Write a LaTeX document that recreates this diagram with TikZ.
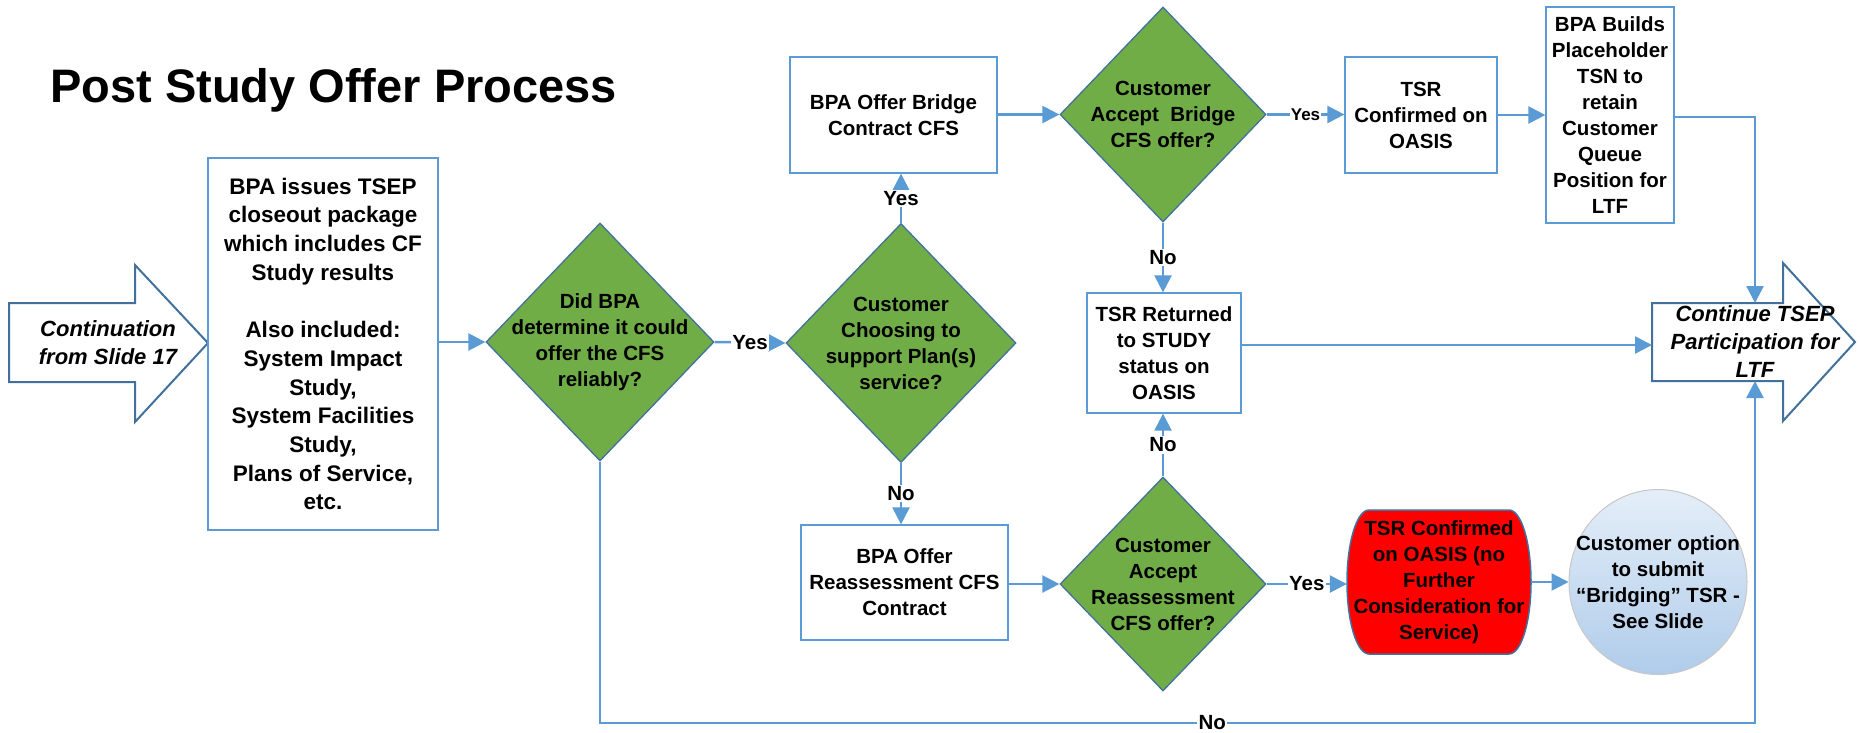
\documentclass[tikz,border=0pt]{standalone}
\usepackage{fontspec}
\setmainfont{Liberation Sans}
\usetikzlibrary{arrows.meta,shapes.geometric}
\definecolor{ln}{HTML}{5B9BD5}
\definecolor{dk}{HTML}{41719C}
\definecolor{gr}{HTML}{70AD47}
\definecolor{redfill}{HTML}{FF0000}
\definecolor{bubtop}{HTML}{E4EEF8}
\definecolor{bubbot}{HTML}{B0CCEA}
\begin{document}
\begin{tikzpicture}[x=1pt,y=-1pt,
  box/.style={draw=ln, line width=1.3pt, fill=white, inner sep=0pt},
  txt/.style={font=\fontsize{20.5}{26}\selectfont\bfseries, align=center, inner sep=0pt},
  bigtxt/.style={font=\fontsize{22.5}{28.7}\selectfont\bfseries, align=center, inner sep=0pt},
  ittxt/.style={font=\fontsize{22}{28}\selectfont\bfseries\itshape, align=center, inner sep=0pt},
  dia/.style={diamond, draw=dk, line width=1.3pt, fill=gr, inner sep=0pt},
  conn/.style={draw=ln, line width=2.5pt, -{Triangle[length=17pt,width=17pt]}},
  lab/.style={font=\fontsize{20.5}{24}\selectfont\bfseries, fill=white, inner sep=1.5pt},
  smlab/.style={font=\fontsize{17}{20}\selectfont\bfseries, fill=white, inner sep=1pt},
  blockarrow/.style={draw=dk, line width=2pt, fill=white, line join=miter},
]
\fill[white] (0,0) rectangle (1860,732);
\useasboundingbox (0,0) rectangle (1860,732);

% title
\node[anchor=base west, font=\fontsize{47}{50}\selectfont\bfseries, inner sep=0pt] (title) at (50,102) {Post Study Offer Process};

% left block arrow
\draw[blockarrow] (9,303) -- (135,303) -- (135,265) -- (208,343) -- (135,422) -- (135,382) -- (9,382) -- cycle;
\node[ittxt] (cont) at (108,343) {Continuation\\from Slide 17};

% right block arrow
\draw[blockarrow] (1652,303) -- (1783,303) -- (1783,263) -- (1855,342) -- (1783,421) -- (1783,381) -- (1652,381) -- cycle;
\node[ittxt] (ctsep) at (1755,342) {Continue TSEP\\Participation for\\LTF};
\coordinate (ctop) at (1755,303);
\coordinate (cleft) at (1652,345);
\coordinate (cbot) at (1755,381);

% boxes
\node[box, bigtxt, minimum width=230pt, minimum height=372pt] (tsep) at (323,344)
  {BPA issues TSEP\\closeout package\\which includes CF\\Study results\\[28.7pt]Also included:\\System Impact\\Study,\\System Facilities\\Study,\\Plans of Service,\\etc.};
\node[box, txt, minimum width=207pt, minimum height=116pt] (bridge) at (893.5,115) {BPA Offer Bridge\\Contract CFS};
\node[box, txt, minimum width=207pt, minimum height=115pt] (reass) at (904.5,582.5) {BPA Offer\\Reassessment CFS\\Contract};
\node[box, txt, minimum width=154pt, minimum height=120pt] (tsrret) at (1164,353) {TSR Returned\\to STUDY\\status on\\OASIS};
\node[box, txt, minimum width=152pt, minimum height=116pt] (tsrconf) at (1421,115) {TSR\\Confirmed on\\OASIS};
\node[box, txt, minimum width=128pt, minimum height=216pt] (builds) at (1610,115) {BPA Builds\\Placeholder\\TSN to\\retain\\Customer\\Queue\\Position for\\LTF};

% diamonds
\node[dia, minimum width=228pt, minimum height=238pt] (d1) at (600,342) {};
\node[txt] at (d1) {Did BPA\\determine it could\\offer the CFS\\reliably?};
\node[dia, minimum width=230pt, minimum height=239pt] (d2) at (901,343) {};
\node[txt] at (d2) {Customer\\Choosing to\\support Plan(s)\\service?};
\node[dia, minimum width=206pt, minimum height=215pt] (d3) at (1163,114.5) {};
\node[txt] at (d3) {Customer\\Accept~ Bridge\\CFS offer?};
\node[dia, minimum width=206pt, minimum height=214pt] (d4) at (1163,584) {};
\node[txt] at (d4) {Customer\\Accept\\Reassessment\\CFS offer?};

% red terminal
\draw[draw=dk, line width=1.5pt, fill=redfill] (1369,510) -- (1509,510)
  arc[start angle=90, end angle=-90, x radius=22pt, y radius=72pt] -- (1369,654)
  arc[start angle=-90, end angle=-270, x radius=22pt, y radius=72pt] -- cycle;
\node[txt, minimum width=184pt, minimum height=144pt] (red) at (1439,582) {TSR Confirmed\\on OASIS (no\\Further\\Consideration for\\Service)};

% bubble
\node[ellipse, draw=black!22, line width=1pt, top color=bubtop, bottom color=bubbot, minimum width=178pt, minimum height=185pt, inner sep=0pt] (bub) at (1658,582) {};
\node[txt] at (bub) {Customer option\\to submit\\“Bridging” TSR -\\See Slide};

% connectors
\draw[conn] (tsep.east |- d1) -- (d1.west);
\draw[conn] (d1.east) -- node[lab]{Yes} (d2.west);
\draw[conn] (d2.north) -- node[lab]{Yes} (d2.north |- bridge.south);
\draw[conn] (bridge.east |- d3) -- (d3.west);
\draw[conn] (d3.east) -- node[smlab]{Yes} (tsrconf.west |- d3);
\draw[conn] (tsrconf.east) -- (builds.west |- tsrconf.east);
\coordinate (bre) at (1674,117);
\draw[conn] (bre) -| (ctop);
\draw[conn] (d3.south) -- node[lab]{No} (d3.south |- tsrret.north);
\draw[conn] (tsrret.east |- cleft) -- (cleft);
\draw[conn] (d2.south) -- node[lab]{No} (d2.south |- reass.north);
\draw[conn] (reass.east |- d4) -- (d4.west);
\draw[conn] (d4.north) -- node[lab]{No} (d4.north |- tsrret.south);
\draw[conn] (d4.east) -- node[lab]{Yes} (red.west |- d4);
\draw[conn] (red.east) -- (bub.west);
\coordinate (bl) at (600,723);
\coordinate (br) at (1755,723);
\draw[conn] (d1.south) -- (bl) -- node[lab, pos=0.53]{No} (br) -- (cbot);
\end{tikzpicture}
\end{document}
